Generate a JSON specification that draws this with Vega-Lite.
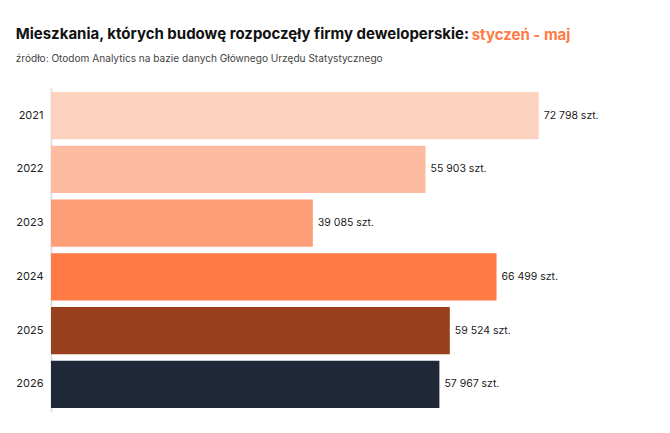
{
  "$schema": "https://vega.github.io/schema/vega-lite/v6.json",
  "background": "white",
  "padding": {"left": 15, "top": 26, "right": 10, "bottom": 10},
  "title": {
    "text": "Mieszkania, których budowę rozpoczęły firmy deweloperskie:",
    "subtitle": "źródło: Otodom Analytics na bazie danych Głównego Urzędu Statystycznego",
    "anchor": "start",
    "frame": "bounds",
    "dx": 0,
    "offset": -36,
    "font": "Inter",
    "fontSize": 15,
    "fontWeight": 700,
    "color": "#111111",
    "subtitleFont": "Inter",
    "subtitleFontSize": 10.1,
    "subtitleColor": "#444444",
    "subtitlePadding": 12
  },
  "data": {
    "values": [
      {"rok": "2021", "liczba": 72798},
      {"rok": "2022", "liczba": 55903},
      {"rok": "2023", "liczba": 39085},
      {"rok": "2024", "liczba": 66499},
      {"rok": "2025", "liczba": 59524},
      {"rok": "2026", "liczba": 57967}
    ]
  },
  "vconcat": [
    {
      "title": {
        "text": "styczeń - maj",
        "anchor": "start",
        "frame": "bounds",
        "dx": 456,
        "offset": 45,
        "font": "Inter",
        "fontSize": 15,
        "fontWeight": 700,
        "color": "#ff7a45"
      },
      "width": 536,
      "height": 324,
      "transform": [
        {"calculate": "replace(format(datum.liczba, ','), ',', ' ') + ' szt.'", "as": "etykieta"}
      ],
      "encoding": {
        "y": {
          "field": "rok",
          "type": "nominal",
          "sort": "ascending",
          "title": null,
          "scale": {"paddingInner": 0.12, "paddingOuter": 0.075},
          "axis": {
            "ticks": false,
            "labelPadding": 8,
            "labelFont": "Inter",
            "labelFontSize": 11,
            "labelColor": "#222222",
            "domainColor": "#e2e2e2",
            "domainWidth": 2
          }
        },
        "x": {
          "field": "liczba",
          "type": "quantitative",
          "scale": {"domain": [0, 80000]},
          "axis": null
        }
      },
      "layer": [
        {
          "mark": {"type": "bar"},
          "encoding": {
            "color": {
              "field": "rok",
              "type": "nominal",
              "scale": {
                "domain": ["2021", "2022", "2023", "2024", "2025", "2026"],
                "range": ["#fdd3c0", "#fdbba0", "#fe9e78", "#ff7a45", "#98401d", "#1e2838"]
              },
              "legend": null
            }
          }
        },
        {
          "mark": {
            "type": "text",
            "align": "left",
            "baseline": "middle",
            "dx": 5,
            "font": "Inter",
            "fontSize": 10.5,
            "color": "#1a1a1a"
          },
          "encoding": {
            "text": {"field": "etykieta", "type": "nominal"}
          }
        }
      ]
    }
  ],
  "config": {
    "view": {"stroke": null},
    "axis": {"grid": false}
  }
}
